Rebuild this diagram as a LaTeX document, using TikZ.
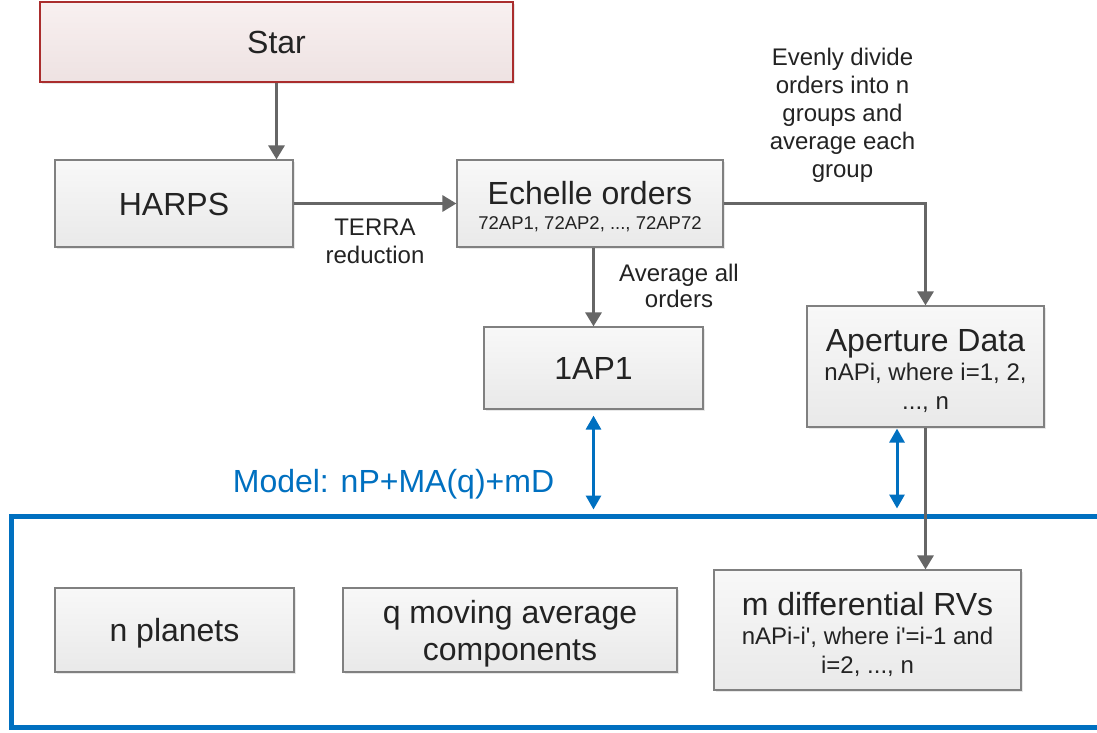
\documentclass[tikz,border=0pt]{standalone}
\usepackage{fontspec}
\setmainfont{Liberation Sans}
\usetikzlibrary{arrows.meta,shadows,calc}
\definecolor{boxline}{RGB}{128,128,128}
\definecolor{arrgray}{RGB}{102,102,102}
\definecolor{mblue}{RGB}{0,112,192}
\definecolor{starline}{RGB}{170,45,45}
\definecolor{txt}{RGB}{35,35,35}
\definecolor{boxtop}{RGB}{248,248,248}
\definecolor{boxbot}{RGB}{233,233,233}
\definecolor{startop}{RGB}{248,240,240}
\definecolor{starbot}{RGB}{238,226,226}
\newcommand{\upstrut}[1]{\rule{0pt}{#1}}
\begin{document}
\begin{tikzpicture}[x=1pt,y=-1pt,
  box/.style={draw=boxline, line width=1.2pt, top color=boxtop, bottom color=boxbot,
    drop shadow={shadow xshift=2pt,shadow yshift=-2pt,opacity=0.18},
    inner sep=0pt, align=center, text=txt, font=\fontsize{32}{34}\selectfont},
  oneline/.style={text height=23pt, text depth=0pt},
  starbox/.style={box, draw=starline, top color=startop, bottom color=starbot},
  lab/.style={align=center, text=txt, inner sep=0pt, font=\fontsize{24}{28}\selectfont},
  arr/.style={draw=arrgray, line width=3pt, -{Triangle[length=14pt,width=16pt]}},
  barr/.style={draw=mblue, line width=3pt, {Triangle[length=14pt,width=15pt]}-{Triangle[length=14pt,width=15pt]}},
  frm/.style={draw=mblue, line width=5pt, inner sep=0pt}]
\useasboundingbox (0,0) rectangle (1097,733);
\fill[white] (0,0) rectangle (1097,733);

% frame
\node[frm, minimum width=1109pt, minimum height=211.5pt] (frame) at (565.5,621.75) {};

% boxes
\node[starbox, oneline, minimum width=473pt, minimum height=80pt] (star) at (276.5,42) {Star};
\node[box, oneline, minimum width=238pt, minimum height=87pt] (harps) at (174,203.5) {HARPS};
\node[box, minimum width=266pt, minimum height=87pt, font=\fontsize{32}{25}\selectfont] (ech) at (590,203.5)
  {\upstrut{29pt}Echelle orders\\{\fontsize{18.5}{25}\selectfont 72AP1, 72AP2, ..., 72AP72}};
\node[box, oneline, minimum width=219pt, minimum height=82pt] (onap) at (593.5,368) {1AP1};
\node[box, minimum width=237pt, minimum height=121pt, font=\fontsize{24}{29}\selectfont] (ap) at (925.5,366.5)
  {{\fontsize{32}{34}\selectfont\upstrut{31pt}Aperture Data}\\nAPi, where i=1, 2,\\..., n};
\node[box, oneline, minimum width=239pt, minimum height=84pt] (npl) at (174.5,630) {n planets};
\node[box, minimum width=334pt, minimum height=84pt, font=\fontsize{32}{37}\selectfont] (qma) at (510,630)
  {\upstrut{30pt}q moving average\\components};
\node[box, minimum width=307pt, minimum height=120pt, font=\fontsize{24}{29}\selectfont] (md) at (867.5,630)
  {{\fontsize{32}{34}\selectfont\upstrut{31.5pt}m differential RVs}\\nAPi-i\textquotesingle, where i\textquotesingle=i-1 and\\i=2, ..., n};

% labels
\node[lab] (terra) at (375,238.5) {\upstrut{23pt}TERRA\\reduction};
\node[lab, font=\fontsize{24}{26}\selectfont] (avg) at (679,285.5) {Average all\\orders};
\node[lab] (even) at (842.5,115) {Evenly divide\\orders into n\\groups and\\average each\\group};
\node[anchor=base, inner sep=0pt, text=mblue, font=\fontsize{32}{34}\selectfont] (model) at (393.5,492) {Model: nP+MA(q)+mD};

% connectors
\draw[arr] (star.south) -- (star.south |- harps.north);
\draw[arr] (harps.east) -- (ech.west);
\draw[arr] (onap.north |- ech.south) -- (onap.north);
\draw[arr] (ech.east) -| (ap.north);
\draw[arr] (ap.south) -- (ap.south |- md.north);

% blue double arrows
\coordinate (b1t) at ($(onap.south)+(0,6)$);
\coordinate (b1b) at ($(onap.south |- frame.north)+(0,-4)$);
\draw[barr] (b1t) -- (b1b);
\coordinate (b2t) at ($(ap.south)+(-28.5,1)$);
\coordinate (b2b) at ($(b2t |- frame.north)+(0,-5)$);
\draw[barr] (b2t) -- (b2b);
\end{tikzpicture}
\end{document}
